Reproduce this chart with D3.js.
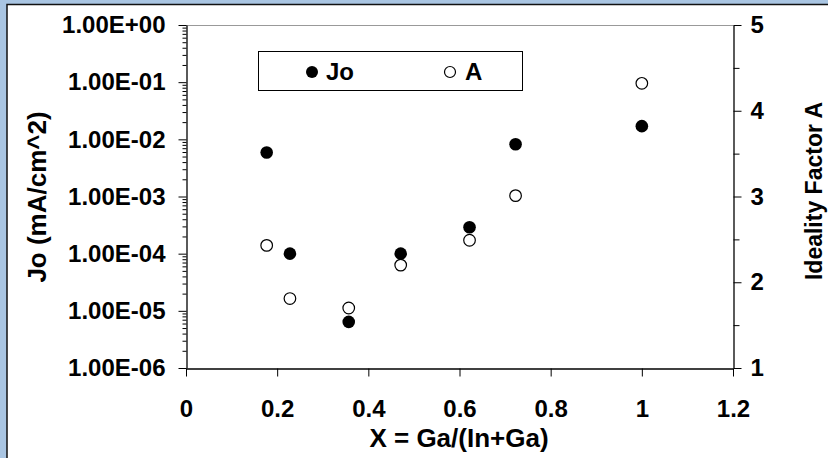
<!DOCTYPE html>
<html>
<head>
<meta charset="utf-8">
<script src="https://cdn.jsdelivr.net/npm/d3@7"></script>
<style>
  body { margin: 0; padding: 0; background: #ffffff; }
  svg { display: block; }
  text { font-family: Arial, "Liberation Sans", sans-serif; font-weight: bold; fill: #000; }
</style>
</head>
<body>
<script>
/**
Ideality factor and saturation current vs Ga content.
Left axis is log (Jo), right axis is linear (A).
*/

const width = 828;
const height = 458;

// The data
const xValues = [0.177, 0.228, 0.357, 0.471, 0.622, 0.723, 1.0];
const joValues = [5.9e-3, 1.0e-4, 6.4e-6, 1.0e-4, 2.9e-4, 8.2e-3, 1.7e-2];
const aValues = [2.43, 1.81, 1.70, 2.20, 2.49, 3.01, 4.32];

// Tick values
const xTicks = [0, 0.2, 0.4, 0.6, 0.8, 1, 1.2];
const joTicks = [1e-6, 1e-5, 1e-4, 1e-3, 1e-2, 1e-1, 1];
const aTicks = [1, 2, 3, 4, 5];

// The titles
const xTitle = 'X = Ga/(In+Ga)';
const yTitle = 'Jo (mA/cm^2)';
const y2Title = 'Ideality Factor A';
const legendNames = ['Jo', 'A'];

// plot box
const plotLeft = 186, plotRight = 733, plotTop = 25, plotBottom = 368;

var svg = d3.select('body')
  .append('svg')
  .attr('width', width)
  .attr('height', height);

// blue frame around the chart
svg.append('rect')
  .attr('width', width)
  .attr('height', height)
  .attr('fill', '#a9c5e2');

svg.append('rect')
  .attr('x', 7)
  .attr('y', 4.5)
  .attr('width', width)
  .attr('height', height)
  .attr('fill', '#ffffff')
  .attr('stroke', '#111')
  .attr('stroke-width', 1.5);

// scales
var x = d3.scaleLinear().domain([0, 1.2]).range([plotLeft, plotRight]);
var yJo = d3.scaleLog().domain([1e-6, 1]).range([plotBottom, plotTop]);
var yA = d3.scaleLinear().domain([1, 5]).range([plotBottom, plotTop]);

// top border of the plot
svg.append('line')
  .attr('x1', plotLeft).attr('x2', plotRight)
  .attr('y1', plotTop + 0.5).attr('y2', plotTop + 0.5)
  .attr('stroke', '#999')
  .attr('stroke-width', 1);

// minor ticks for the log axis
var minorJo = [];
for (var e = -6; e < 0; e++) {
  for (var m = 2; m < 10; m++) minorJo.push(m * Math.pow(10, e));
}

var gMinor = svg.append('g')
  .attr('transform', 'translate(' + (plotLeft + 0.5) + ',0)')
  .call(d3.axisLeft(yJo).tickValues(minorJo).tickSize(4).tickFormat(''));
gMinor.select('.domain').remove();

// left axis
var gLeft = svg.append('g')
  .attr('transform', 'translate(' + (plotLeft + 0.5) + ',0)')
  .call(d3.axisLeft(yJo).tickValues(joTicks).tickSize(8).tickSizeOuter(0).tickPadding(13)
    .tickFormat(function(d) {
      var ex = Math.round(Math.log10(d));
      return '1.00E' + (ex < 0 ? '-' : '+') + String(Math.abs(ex)).padStart(2, '0');
    }));

// right axis minor ticks
var gRightMinor = svg.append('g')
  .attr('transform', 'translate(' + (plotRight + 0.5) + ',0)')
  .call(d3.axisRight(yA).tickValues([1.5, 2.5, 3.5, 4.5]).tickSize(6).tickFormat(''));
gRightMinor.select('.domain').remove();

// right axis
var gRight = svg.append('g')
  .attr('transform', 'translate(' + (plotRight + 0.5) + ',0)')
  .call(d3.axisRight(yA).tickValues(aTicks).tickSize(8).tickSizeOuter(0).tickPadding(9)
    .tickFormat(d3.format('d')));

// bottom axis
var gBottom = svg.append('g')
  .attr('transform', 'translate(0,' + (plotBottom + 0.5) + ')')
  .call(d3.axisBottom(x).tickValues(xTicks).tickSize(8).tickSizeOuter(0).tickPadding(23)
    .tickFormat(function(d) { return String(+d.toFixed(1)); }));

svg.selectAll('.domain').attr('stroke', '#000').attr('stroke-width', 1.3);
svg.selectAll('.tick line').attr('stroke', '#000').attr('stroke-width', 1);
svg.selectAll('.tick text')
  .style('font-size', '24px')
  .style('font-family', 'Arial, "Liberation Sans", sans-serif')
  .style('font-weight', 'bold')
  .attr('fill', '#000');

// axis titles
svg.append('text')
  .attr('transform', 'translate(' + 459 + ',' + 447 + ')')
  .style('font-size', '26px')
  .style('text-anchor', 'middle')
  .text(xTitle);

svg.append('text')
  .attr('transform', 'translate(' + 46 + ',' + 197 + ') rotate(-90)')
  .style('font-size', '26px')
  .style('text-anchor', 'middle')
  .text(yTitle);

svg.append('text')
  .attr('transform', 'translate(' + 822 + ',' + 191 + ') rotate(-90)')
  .style('font-size', '23px')
  .style('text-anchor', 'middle')
  .text(y2Title);

// points: Jo (filled) and A (open)
svg.append('g').selectAll('circle')
  .data(xValues)
  .join('circle')
  .attr('cx', function(d) { return x(d); })
  .attr('cy', function(d, i) { return yJo(joValues[i]); })
  .attr('r', 6.3)
  .attr('fill', '#000');

svg.append('g').selectAll('circle')
  .data(xValues)
  .join('circle')
  .attr('cx', function(d) { return x(d); })
  .attr('cy', function(d, i) { return yA(aValues[i]); })
  .attr('r', 5.8)
  .attr('fill', '#fff')
  .attr('stroke', '#000')
  .attr('stroke-width', 1.2);

// legend
var legend = svg.append('g');
legend.append('rect')
  .attr('x', 258.5).attr('y', 51.5)
  .attr('width', 264).attr('height', 39)
  .attr('fill', '#fff')
  .attr('stroke', '#000')
  .attr('stroke-width', 1);

legend.append('circle')
  .attr('cx', 312).attr('cy', 72).attr('r', 6)
  .attr('fill', '#000');
legend.append('text')
  .attr('x', 326).attr('y', 80)
  .style('font-size', '24px')
  .text(legendNames[0]);

legend.append('circle')
  .attr('cx', 450).attr('cy', 72).attr('r', 5.5)
  .attr('fill', '#fff')
  .attr('stroke', '#000')
  .attr('stroke-width', 1.2);
legend.append('text')
  .attr('x', 465).attr('y', 80)
  .style('font-size', '24px')
  .text(legendNames[1]);
</script>
</body>
</html>
